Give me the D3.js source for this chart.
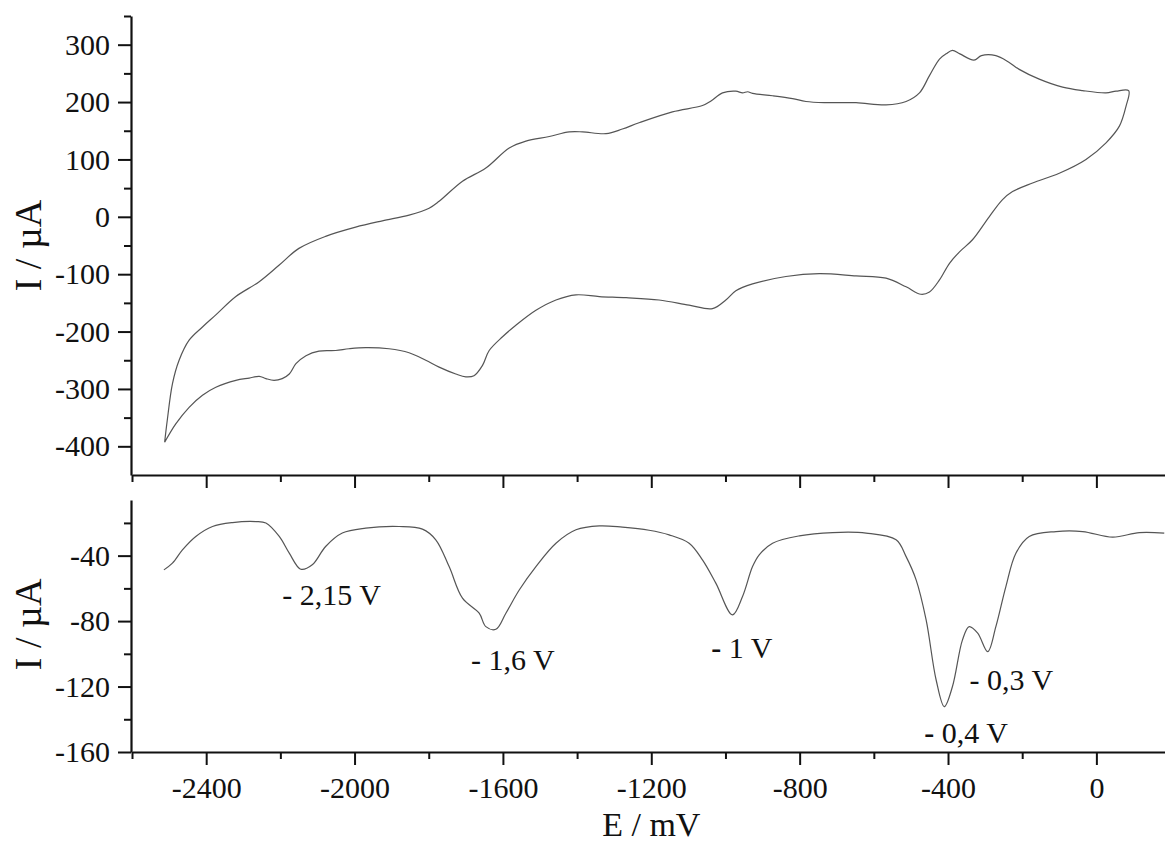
<!DOCTYPE html>
<html>
<head>
<meta charset="utf-8">
<script src="https://cdn.jsdelivr.net/npm/d3@7"></script>
<style>
  html, body { margin: 0; padding: 0; background: #fff; }
  svg { display: block; }
  text { font-family: "Liberation Serif", "Times New Roman", serif; fill: #111; }
</style>
</head>
<body>
<svg id="chart" width="1165" height="844"></svg>
<script>
// ---------- data ----------
// Cyclic voltammogram (E in mV, I in µA), loop from -2512 mV forward then back
const cvE = [-2512,-2505,-2491,-2473,-2446,-2410,-2374,-2320,-2257,-2203,-2150,-2078,-1997,-1925,-1853,-1799,-1772,-1709,-1646,-1583,-1538,-1475,-1421,-1385,-1322,-1278,-1233,-1143,-1062,-1039,-1008,-972,-954,-940,-927,-873,-819,-783,-729,-648,-567,-513,-477,-450,-423,-405,-388,-368,-330,-310,-271,-237,-208,-154,-91,-37,26,53,87,
  80,62,26,-28,-100,-172,-226,-253,-289,-334,-369,-396,-423,-450,-473,-513,-567,-648,-747,-837,-927,-972,-999,-1035,-1098,-1179,-1268,-1340,-1403,-1457,-1511,-1565,-1601,-1637,-1655,-1678,-1700,-1727,-1772,-1808,-1853,-1907,-1970,-2015,-2051,-2096,-2131,-2158,-2176,-2195,-2217,-2239,-2257,-2284,-2320,-2374,-2410,-2446,-2482,-2512];
const cvI = [-393,-355,-291,-250,-215,-192,-171,-139,-113,-84,-55,-34,-18,-7,3,15,27,62,85,120,132,140,148,148,145,153,164,183,194,202,216,219,216,218,215,211,206,201,199,199,195,201,216,246,275,284,290,284,273,281,281,270,257,240,226,220,216,219,220,
  193,158,129,100,76,59,44,30,0,-40,-61,-81,-110,-131,-135,-122,-107,-103,-99,-104,-117,-129,-145,-160,-154,-145,-141,-139,-136,-145,-163,-189,-209,-233,-259,-277,-279,-274,-262,-250,-237,-230,-228,-230,-233,-234,-242,-256,-274,-282,-285,-282,-278,-281,-285,-297,-311,-332,-361,-393];

// Differential pulse voltammogram (E in mV, I in µA)
const dpvE = [-2514,-2491,-2464,-2428,-2383,-2329,-2266,-2239,-2203,-2176,-2145,-2114,-2078,-2033,-1970,-1880,-1817,-1781,-1745,-1709,-1664,-1646,-1619,-1592,-1556,-1511,-1457,-1403,-1340,-1278,-1206,-1152,-1098,-1062,-1026,-981,-954,-927,-909,-873,-801,-711,-621,-540,-513,-486,-459,-432,-410,-388,-361,-343,-320,-293,-271,-244,-217,-181,-109,-37,44,116,183];
const dpvI = [-48.7,-44.6,-36.5,-28.3,-22.2,-19.8,-19.2,-20.1,-28.3,-38.5,-48.3,-45.6,-34.4,-26.2,-23.2,-22.2,-23.8,-30.3,-46.7,-66,-75.2,-83.4,-85,-75.2,-61,-46.7,-32.4,-24.2,-21.8,-22.6,-24.5,-27.3,-32.4,-42.6,-56.8,-76.2,-65,-46.7,-39.5,-32.4,-27.9,-25.9,-26.2,-30.3,-40.6,-54.8,-79.3,-116,-132.3,-120,-91.5,-83.4,-87.4,-98.7,-83.4,-58.9,-38.5,-28.3,-25.3,-25.3,-28.7,-25.9,-26.2];

// Peak annotations (text, anchor E, anchor I)
const peakLabels = ["2,15 V", "1,6 V", "1 V", "0,3 V", "0,4 V"];
const peakE = [-2195, -1686, -1038, -342, -464];
const peakI = [-70, -110, -102.5, -122, -154.5];
const boldDash = [false, false, true, false, true];

// Tick values
const xTicksMajor = [-2400, -2000, -1600, -1200, -800, -400, 0];
const xTicksMinor = [-2600, -2200, -1800, -1400, -1000, -600, -200];
const yTopMajor = [-400, -300, -200, -100, 0, 100, 200, 300];
const yTopMinor = [-350, -250, -150, -50, 50, 150, 250, 350];
const yBotMajor = [-160, -120, -80, -40];
const yBotMinor = [-140, -100, -60, -20];

// ---------- scales ----------
const svg = d3.select("#chart");
const x = d3.scaleLinear().domain([-2600, 185]).range([132, 1165]);
const yTop = d3.scaleLinear().domain([-450, 350]).range([475, 16]);
const yBot = d3.scaleLinear().domain([-160, -6]).range([752, 500]);
const fmt = d => String(d);

function styleAxis(g) {
  g.selectAll("path.domain").attr("stroke", "#111").attr("stroke-width", 2.2);
  g.selectAll(".tick line").attr("stroke", "#111").attr("stroke-width", 2);
  g.selectAll(".tick text").attr("font-family", "Liberation Serif, serif").attr("font-size", 30).attr("fill", "#111");
}

// ---------- top panel ----------
const topX = svg.append("g").attr("transform", `translate(0,${yTop(-450)})`);
topX.call(d3.axisBottom(x).tickValues(xTicksMajor).tickSize(13).tickSizeOuter(0).tickFormat(""));
topX.append("g").call(d3.axisBottom(x).tickValues(xTicksMinor).tickSize(7).tickSizeOuter(0).tickFormat(""))
  .select("path.domain").remove();
styleAxis(topX);

const topY = svg.append("g").attr("transform", `translate(${x(-2600) - 1},0)`);
topY.call(d3.axisLeft(yTop).tickValues(yTopMajor).tickSize(13).tickSizeOuter(0).tickPadding(8).tickFormat(fmt));
topY.append("g").call(d3.axisLeft(yTop).tickValues(yTopMinor).tickSize(7).tickSizeOuter(0).tickFormat(""))
  .select("path.domain").remove();
styleAxis(topY);

const cvPts = cvE.map((e, i) => [e, cvI[i]]);
svg.append("path")
  .datum(cvPts)
  .attr("fill", "none")
  .attr("stroke", "#555")
  .attr("stroke-width", 1.2)
  .attr("d", d3.line().x(d => x(d[0])).y(d => yTop(d[1])).curve(d3.curveCatmullRom.alpha(0.5)));

svg.append("text")
  .attr("transform", `translate(41,${yTop(-50)}) rotate(-90)`)
  .attr("text-anchor", "middle")
  .attr("font-size", 38)
  .text("I / µA");

// ---------- bottom panel ----------
const botX = svg.append("g").attr("transform", `translate(0,${yBot(-160)})`);
botX.call(d3.axisBottom(x).tickValues(xTicksMajor).tickSize(13).tickSizeOuter(0).tickPadding(12).tickFormat(fmt));
botX.append("g").call(d3.axisBottom(x).tickValues(xTicksMinor).tickSize(7).tickSizeOuter(0).tickFormat(""))
  .select("path.domain").remove();
styleAxis(botX);

const botY = svg.append("g").attr("transform", `translate(${x(-2600) - 1},0)`);
botY.call(d3.axisLeft(yBot).tickValues(yBotMajor).tickSize(13).tickSizeOuter(0).tickPadding(8).tickFormat(fmt));
botY.append("g").call(d3.axisLeft(yBot).tickValues(yBotMinor).tickSize(7).tickSizeOuter(0).tickFormat(""))
  .select("path.domain").remove();
styleAxis(botY);

const dpvPts = dpvE.map((e, i) => [e, dpvI[i]]);
svg.append("path")
  .datum(dpvPts)
  .attr("fill", "none")
  .attr("stroke", "#555")
  .attr("stroke-width", 1.2)
  .attr("d", d3.line().x(d => x(d[0])).y(d => yBot(d[1])).curve(d3.curveCatmullRom.alpha(0.5)));

svg.append("text")
  .attr("transform", `translate(41,${yBot(-82)}) rotate(-90)`)
  .attr("text-anchor", "middle")
  .attr("font-size", 38)
  .text("I / µA");

// peak annotations
peakLabels.forEach((lab, i) => {
  const t = svg.append("text")
    .attr("x", x(peakE[i]))
    .attr("y", yBot(peakI[i]))
    .attr("font-size", 30);
  t.append("tspan").attr("font-weight", boldDash[i] ? "bold" : "normal").text("-");
  t.append("tspan").text(" " + lab);
});

// x-axis title
svg.append("text")
  .attr("x", x(-1200))
  .attr("y", 836)
  .attr("text-anchor", "middle")
  .attr("font-size", 34)
  .text("E / mV");
</script>
</body>
</html>
